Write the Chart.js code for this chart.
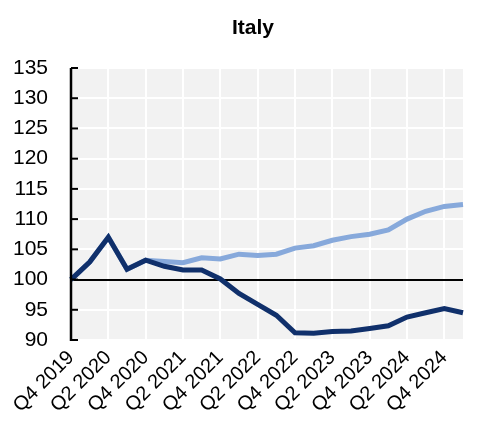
<!DOCTYPE html>
<html>
<head>
<meta charset="utf-8">
<script src="https://cdn.jsdelivr.net/npm/chart.js@4.4.1/dist/chart.umd.min.js"></script>
<style>
html,body{margin:0;padding:0;background:#fff;}
#wrap{width:478px;height:436px;}
</style>
</head>
<body>
<div id="wrap"><canvas id="c" width="478" height="436"></canvas></div>
<script>
const categories = ["Q4 2019","Q1 2020","Q2 2020","Q3 2020","Q4 2020","Q1 2021","Q2 2021","Q3 2021","Q4 2021","Q1 2022","Q2 2022","Q3 2022","Q4 2022","Q1 2023","Q2 2023","Q3 2023","Q4 2023","Q1 2024","Q2 2024","Q3 2024","Q4 2024","Q1 2025"];
const seriesDark = [100, 102.9, 107.0, 101.7, 103.2, 102.2, 101.6, 101.6, 100.1, 97.7, 95.9, 94.1, 91.2, 91.1, 91.4, 91.5, 91.9, 92.35, 93.8, 94.5, 95.2, 94.5];
const seriesLight = [100, 102.9, 107.0, 101.7, 103.2, 103.0, 102.8, 103.6, 103.4, 104.2, 104.0, 104.2, 105.2, 105.6, 106.5, 107.1, 107.5, 108.2, 110.0, 111.3, 112.1, 112.4];
const yTicks = [90, 95, 100, 105, 110, 115, 120, 125, 130, 135];
const titleText = "Italy";

const FONT = "'Liberation Sans', Arial, sans-serif";

const bgPlugin = {
  id: 'bg',
  beforeDraw(chart) {
    const a = chart.chartArea, ctx = chart.ctx;
    ctx.save();
    ctx.fillStyle = '#f2f2f2';
    ctx.fillRect(a.left, a.top, a.right - a.left, a.bottom - a.top);
    ctx.restore();
  },
  afterDraw(chart) {
    const a = chart.chartArea, ctx = chart.ctx, y = chart.scales.y;
    ctx.save();
    ctx.strokeStyle = '#000';
    ctx.lineWidth = 2.5;
    ctx.beginPath();
    ctx.moveTo(a.left, a.top);
    ctx.lineTo(a.left, a.bottom + 1);
    ctx.stroke();
    ctx.lineWidth = 2;
    yTicks.forEach(v => {
      const py = y.getPixelForValue(v);
      ctx.beginPath();
      ctx.moveTo(a.left, py);
      ctx.lineTo(a.left + 7, py);
      ctx.stroke();
    });
    // title
    ctx.fillStyle = '#000';
    ctx.font = "bold 21px " + FONT;
    ctx.textAlign = 'center';
    ctx.textBaseline = 'alphabetic';
    ctx.fillText(titleText, 253, 34);
    ctx.restore();
  }
};

new Chart(document.getElementById('c'), {
  type: 'line',
  data: {
    labels: categories,
    datasets: [
      { data: seriesDark, borderColor: '#10306b', borderWidth: 5, pointRadius: 0, tension: 0, borderJoinStyle: 'miter' },
      { data: seriesLight, borderColor: '#87a9db', borderWidth: 5, pointRadius: 0, tension: 0 }
    ]
  },
  options: {
    responsive: false,
    animation: false,
    devicePixelRatio: 1,
    layout: { padding: { left: 0, right: 15, top: 68, bottom: 0 } },
    plugins: {
      legend: { display: false },
      tooltip: { enabled: false },
      title: { display: false }
    },
    scales: {
      x: {
        offset: false,
        grid: {
          color: '#ffffff',
          lineWidth: 2,
          drawTicks: false,
          offset: false
        },
        border: { display: false },
        ticks: {
          autoSkip: false,
          maxRotation: 45,
          minRotation: 45,
          padding: 6,
          color: '#000',
          font: { family: FONT, size: 20 },
          callback: function (val, i) { return i % 2 === 0 ? this.getLabelForValue(val) : null; }
        },
        afterFit(s) { s.height = 96; }
      },
      y: {
        min: 90,
        max: 135,
        grid: {
          color: ctx => (ctx.tick && ctx.tick.value === 100) ? '#000000' : '#ffffff',
          lineWidth: 2,
          drawTicks: false
        },
        border: { display: false },
        ticks: {
          stepSize: 5,
          padding: 23,
          color: '#000',
          font: { family: FONT, size: 21 }
        },
        afterFit(s) { s.width = 71; }
      }
    }
  },
  plugins: [bgPlugin]
});
</script>
</body>
</html>
